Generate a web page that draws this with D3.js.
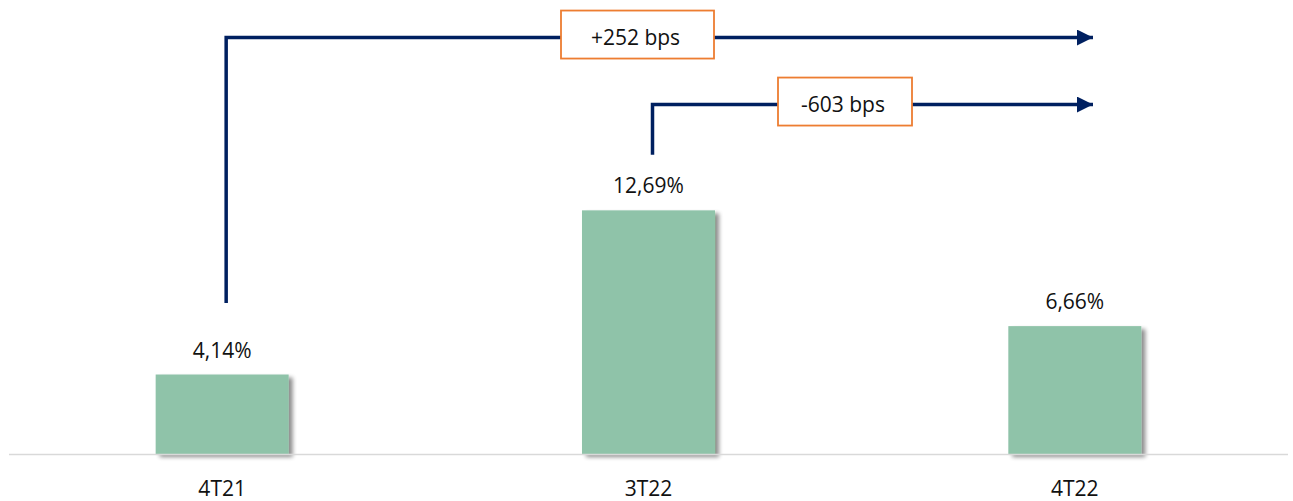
<!DOCTYPE html>
<html>
<head>
<meta charset="utf-8">
<script src="https://cdn.jsdelivr.net/npm/d3@7"></script>
<style>
  html, body { margin: 0; padding: 0; background: #fff; }
  svg { display: block; }
  text { font-family: "Open Sans", "Noto Sans", sans-serif; fill: #111; }
</style>
</head>
<body>
<svg id="chart" width="1293" height="501"></svg>
<script>
// Quarterly ratio (%)
const categories = ["4T21", "3T22", "4T22"];
const values = [4.14, 12.69, 6.66];
const valueLabels = ["4,14%", "12,69%", "6,66%"];

// Variation callouts: from period -> to period
const changes = [
  { from: "4T21", to: "4T22" },
  { from: "3T22", to: "4T22" }
];

const width = 1293, height = 501;
const svg = d3.select("#chart");

const x = d3.scaleBand()
  .domain(categories)
  .range([9, 1288])
  .paddingInner(0.688)
  .paddingOuter(0.344);

const y = d3.scaleLinear()
  .domain([0, 1])
  .range([454, 434.8]);

// Soft drop shadow under the bars
const defs = svg.append("defs");
const f = defs.append("filter").attr("id", "shadow")
  .attr("x", "-10%").attr("y", "-10%").attr("width", "130%").attr("height", "130%");
f.append("feGaussianBlur").attr("in", "SourceAlpha").attr("stdDeviation", 2).attr("result", "b");
f.append("feOffset").attr("in", "b").attr("dx", 4).attr("dy", 3).attr("result", "o");
f.append("feComponentTransfer").attr("in", "o").attr("result", "s")
  .append("feFuncA").attr("type", "linear").attr("slope", 0.45);
const m = f.append("feMerge");
m.append("feMergeNode").attr("in", "s");
m.append("feMergeNode").attr("in", "SourceGraphic");

// Bars
svg.append("g").selectAll("rect")
  .data(categories)
  .join("rect")
  .attr("x", d => x(d))
  .attr("width", x.bandwidth())
  .attr("y", (d, i) => y(values[i]))
  .attr("height", (d, i) => y(0) - y(values[i]))
  .attr("fill", "#8fc3a9")
  .attr("filter", "url(#shadow)");

// Baseline
svg.append("line")
  .attr("x1", 9).attr("x2", 1288)
  .attr("y1", y(0) + 0.5).attr("y2", y(0) + 0.5)
  .attr("stroke", "#d9d9d9").attr("stroke-width", 1.5);

// Value labels
svg.append("g").selectAll("text")
  .data(categories)
  .join("text")
  .attr("x", d => x(d) + x.bandwidth() / 2)
  .attr("y", (d, i) => y(values[i]) - 17)
  .attr("text-anchor", "middle")
  .attr("font-size", 21)
  .text((d, i) => valueLabels[i]);

// Category axis
const xAxis = d3.axisBottom(x).tickSize(0).tickPadding(0);
const ax = svg.append("g").attr("transform", `translate(0, ${y(0) + 42})`).call(xAxis);
ax.select(".domain").remove();
ax.selectAll("text")
  .attr("font-size", 21)
  .attr("font-family", "\"Open Sans\", \"Noto Sans\", sans-serif")
  .attr("fill", "#111")
  .attr("dy", 0);

// Arrow callouts
const navy = "#002060";
defs.append("marker")
  .attr("id", "head")
  .attr("viewBox", "0 0 10 10")
  .attr("refX", 10).attr("refY", 5)
  .attr("markerUnits", "userSpaceOnUse")
  .attr("markerWidth", 16).attr("markerHeight", 16)
  .attr("orient", "auto")
  .append("path").attr("d", "M0,0 L10,5 L0,10 Z").attr("fill", navy);

const levels = [21.69, 18.2];    // heights of the horizontal runs
const starts = [7.87, 15.58];    // where the vertical legs begin
const arrowEnd = 1093;
const fmt = v => (v > 0 ? "+" : "") + Math.round(v * 100) + " bps";
const boxes = [
  { cx: 637.5, w: 153 },
  { cx: 845, w: 134 }
];

const g = svg.append("g");
changes.forEach((c, i) => {
  const i0 = categories.indexOf(c.from), i1 = categories.indexOf(c.to);
  const delta = values[i1] - values[i0];
  const x0 = x(c.from) + x.bandwidth() / 2 + 4;
  const yTop = y(levels[i]);
  g.append("path")
    .attr("d", `M${x0},${y(starts[i])} V${yTop} H${arrowEnd}`)
    .attr("fill", "none")
    .attr("stroke", navy)
    .attr("stroke-width", 3.5)
    .attr("marker-end", "url(#head)");
  const b = boxes[i];
  g.append("rect")
    .attr("x", b.cx - b.w / 2).attr("y", yTop - 27)
    .attr("width", b.w).attr("height", 48)
    .attr("fill", "#fff")
    .attr("stroke", "#ed7d31").attr("stroke-width", 1.8);
  g.append("text")
    .attr("x", b.cx - 2).attr("y", yTop + 7)
    .attr("text-anchor", "middle")
    .attr("font-size", 21)
    .text(fmt(delta));
});
</script>
</body>
</html>
